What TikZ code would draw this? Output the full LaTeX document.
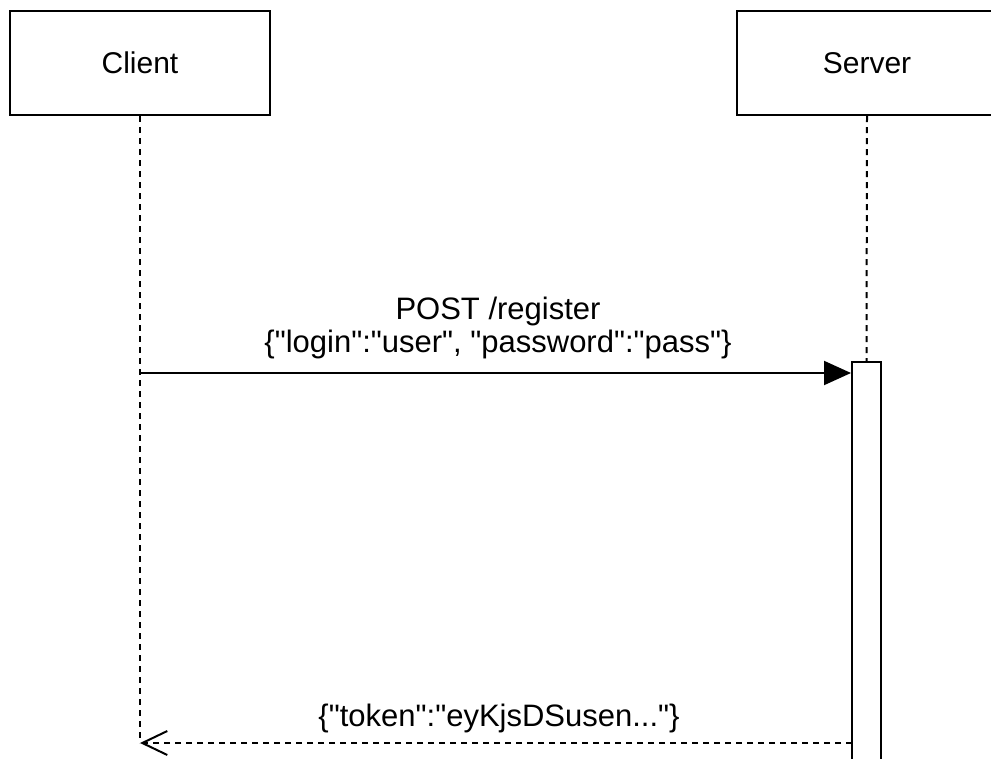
\documentclass[tikz,border=0pt]{standalone}
\usepackage{fontspec}
\setmainfont{Liberation Sans}[Ligatures=TeXOff]
\usetikzlibrary{arrows.meta}
\begin{document}
\begin{tikzpicture}[x=1pt,y=-1pt,
  actor/.style={draw=black,line width=2pt,fill=white,minimum width=260pt,minimum height=104pt,inner sep=0pt,font=\fontsize{30}{36}\selectfont},
  lifeline/.style={draw=black,line width=2pt,dash pattern=on 6pt off 5pt},
  actbox/.style={draw=black,line width=2pt,fill=white,minimum width=29pt,minimum height=420pt,inner sep=0pt,anchor=north},
  msglabel/.style={font=\fontsize{31}{33}\selectfont,align=center,inner sep=0pt}
]
\useasboundingbox (0,0) rectangle (991,758);
\begin{scope}
\clip (0,0) rectangle (991,758);
% lifelines
\coordinate (cbot) at (140,743);
\coordinate (sact) at (866.5,361);
\node[actor] (client) at (140,63) {Client};
\node[actor] (server) at (867,63) {Server};
\draw[lifeline] (client.south) -- (cbot);
\draw[lifeline] (server.south) -- (sact);
\node[actbox] (act) at (sact) {};
% request
\coordinate (reqstart) at (140,373);
\draw[line width=2pt,-{Triangle[length=27pt,width=24pt]}] (reqstart) -- (reqstart -| act.west);
\node[msglabel] (reqlabel) at (498,328) {POST /register\\\{"login":"user", "password":"pass"\}};
% response
\coordinate (respend) at (852,743);
\draw[lifeline,-{Straight Barb[length=25pt,width=24pt,line width=2pt]}] (respend) -- (cbot);
\node[msglabel] (resplabel) at (499,718) {\{"token":"eyKjsDSusen..."\}};
\end{scope}
\end{tikzpicture}
\end{document}
